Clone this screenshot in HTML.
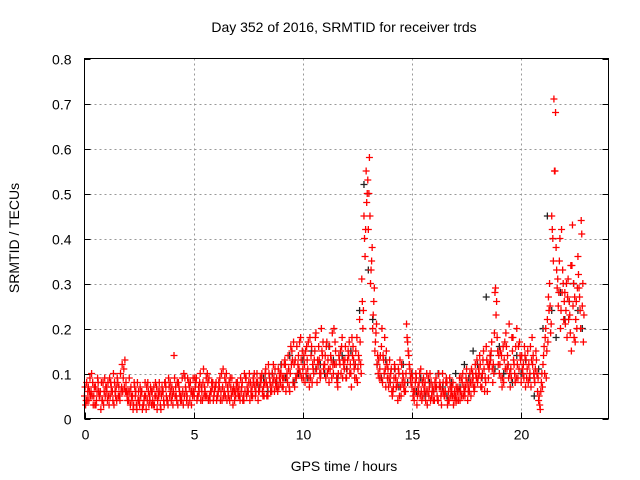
<!DOCTYPE html>
<html><head><meta charset="utf-8"><style>
body{margin:0;background:#fff}
svg{display:block;font-family:"Liberation Sans",sans-serif}
</style></head><body>
<svg id="chart" width="640" height="480">
<text x="344" y="32" text-anchor="middle" font-size="14">Day 352 of 2016, SRMTID for receiver trds</text>
<text x="344" y="471" text-anchor="middle" font-size="14">GPS time / hours</text>
<text transform="translate(19,238) rotate(-90)" text-anchor="middle" font-size="14">SRMTID / TECUs</text>
<g id="grid"></g><g id="ticks"></g><g id="marks"></g>
<rect x="84.5" y="58.5" width="524" height="360" fill="none" stroke="#000"/>
</svg>
<script>
const xTicks=[0,5,10,15,20];
const yTicks=[0,0.1,0.2,0.3,0.4,0.5,0.6,0.7,0.8];
const yTickLabels=["0","0.1","0.2","0.3","0.4","0.5","0.6","0.7","0.8"];
const redStartA=0.0, redStartB=0.05, redStartC=0.025, redStartD=0.075, redStep=0.1;
const redA=[.05,.08,.04,.06,.03,.07,.09,.05,.04,.06,
.07,.05,.08,.04,.06,.09,.05,.07,.11,.08,
.06,.03,.05,.07,.02,.04,.06,.03,.05,.08,
.04,.06,.03,.07,.05,.02,.06,.08,.04,.05,
.07,.14,.05,.08,.04,.06,.09,.05,.07,.03,
.06,.08,.05,.10,.04,.07,.05,.09,.06,.04,
.07,.05,.09,.04,.06,.10,.05,.07,.03,.06,
.08,.05,.07,.04,.09,.06,.08,.05,.07,.10,
.06,.09,.07,.11,.05,.08,.10,.06,.09,.07,
.10,.07,.12,.08,.06,.15,.12,.09,.14,.18,
.11,.08,.13,.07,.16,.10,.19,.12,.09,.14,
.12,.17,.08,.13,.10,.15,.07,.12,.18,.11,
.09,.14,.10,.16,.12,.08,.22,.31,.45,.55,
.42,.30,.20,.15,.12,.09,.16,.13,.07,.11,
.08,.05,.12,.07,.10,.05,.09,.06,.17,.11,
.07,.04,.09,.06,.11,.05,.08,.03,.07,.05,
.06,.09,.04,.07,.10,.05,.08,.04,.06,.03,
.05,.07,.04,.08,.06,.11,.07,.05,.09,.12,
.08,.14,.07,.11,.16,.09,.13,.08,.28,.18,
.10,.14,.08,.19,.12,.07,.15,.10,.20,.11,
.08,.12,.07,.15,.10,.18,.09,.13,.04,.06,
.12,.18,.22,.30,.45,.71,.38,.25,.20,.33,
.28,.18,.26,.15,.30,.22,.36,.24,.25];
const redB=[.03,.06,.09,.05,.07,.04,.06,.02,.08,.05,
.04,.09,.06,.03,.07,.05,.10,.06,.13,.05,
.09,.05,.03,.06,.04,.07,.02,.05,.07,.03,
.06,.03,.08,.04,.06,.07,.03,.05,.09,.06,
.03,.05,.08,.06,.04,.10,.06,.03,.08,.05,
.09,.04,.06,.07,.11,.05,.08,.04,.07,.06,
.04,.08,.06,.11,.05,.07,.04,.09,.06,.08,
.05,.09,.04,.06,.07,.10,.05,.08,.06,.04,
.09,.06,.08,.05,.10,.07,.12,.08,.06,.10,
.07,.12,.09,.11,.16,.08,.13,.10,.17,.09,
.14,.10,.17,.09,.12,.15,.08,.13,.20,.11,
.09,.13,.11,.19,.12,.09,.14,.10,.13,.16,
.13,.10,.18,.11,.09,.14,.12,.20,.36,.50,
.58,.35,.26,.19,.10,.14,.08,.18,.12,.09,
.11,.07,.09,.04,.13,.08,.06,.21,.14,.08,
.05,.08,.05,.10,.04,.07,.06,.09,.04,.07,
.08,.05,.07,.03,.06,.08,.04,.07,.05,.06,
.04,.06,.09,.05,.07,.04,.10,.08,.06,.09,
.11,.07,.13,.09,.06,.12,.17,.10,.23,.12,
.15,.09,.17,.11,.21,.09,.13,.16,.09,.14,
.11,.16,.09,.12,.07,.14,.11,.06,.03,.10,
.16,.09,.27,.19,.40,.55,.29,.35,.42,.22,
.24,.31,.19,.43,.27,.20,.29,.44,.17];
const redC=[.07,.04,.06,.10,.05,.03,.08,.06,.04,.09,
.06,.03,.07,.10,.05,.08,.04,.12,.07,.06,
.04,.07,.02,.05,.08,.03,.06,.04,.02,.06,
.07,.04,.05,.02,.08,.05,.04,.07,.03,.08,
.05,.09,.04,.07,.05,.03,.07,.09,.04,.06,
.05,.09,.07,.04,.08,.06,.10,.05,.08,.05,
.08,.06,.04,.07,.09,.04,.08,.05,.07,.05,
.06,.04,.08,.10,.05,.08,.06,.09,.05,.08,
.07,.10,.05,.08,.12,.06,.08,.11,.07,.09,
.12,.09,.06,.14,.10,.13,.07,.16,.11,.13,
.09,.15,.11,.18,.08,.13,.11,.16,.10,.17,
.14,.10,.16,.09,.20,.12,.10,.15,.09,.13,
.11,.17,.07,.13,.15,.11,.17,.26,.40,.48,
.50,.33,.23,.17,.14,.11,.20,.10,.15,.07,
.10,.06,.11,.08,.05,.12,.07,.10,.15,.09,
.09,.06,.03,.08,.06,.09,.04,.06,.10,.06,
.04,.07,.10,.05,.08,.06,.03,.09,.07,.05,
.07,.04,.06,.10,.05,.08,.06,.11,.07,.10,
.09,.12,.10,.06,.13,.11,.15,.12,.29,.15,
.12,.07,.13,.16,.09,.11,.18,.08,.12,.17,
.14,.09,.13,.08,.16,.12,.08,.10,.05,.08,
.14,.20,.17,.25,.42,.55,.33,.28,.24,.30,
.21,.27,.23,.34,.18,.26,.32,.20,.30];
const redD=[.04,.07,.05,.08,.03,.06,.05,.08,.03,.07,
.08,.05,.06,.08,.04,.07,.06,.09,.06,.04,
.06,.04,.08,.03,.06,.05,.03,.08,.04,.05,
.03,.07,.05,.06,.03,.06,.08,.04,.07,.04,
.06,.07,.03,.05,.09,.05,.04,.08,.06,.09,
.07,.05,.08,.06,.05,.09,.04,.06,.08,.07,
.05,.07,.10,.05,.08,.06,.09,.06,.04,.07,
.07,.06,.05,.09,.06,.04,.07,.10,.08,.06,
.08,.05,.10,.07,.09,.06,.09,.07,.11,.08,
.09,.13,.10,.07,.12,.17,.09,.12,.10,.15,
.12,.16,.09,.14,.11,.18,.13,.10,.15,.12,
.16,.11,.14,.12,.17,.08,.13,.16,.12,.09,
.15,.12,.14,.09,.18,.13,.10,.24,.42,.53,
.45,.38,.29,.21,.13,.09,.14,.11,.09,.13,
.06,.09,.07,.11,.07,.10,.08,.18,.12,.10,
.06,.10,.07,.05,.08,.06,.10,.05,.08,.04,
.07,.04,.08,.06,.05,.09,.06,.05,.08,.04,
.06,.09,.05,.07,.09,.06,.08,.10,.07,.13,
.10,.09,.15,.08,.12,.14,.11,.19,.26,.14,
.09,.16,.11,.14,.10,.18,.12,.09,.16,.13,
.10,.14,.11,.09,.13,.10,.15,.09,.02,.07,
.10,.15,.24,.21,.35,.68,.31,.40,.28,.26,
.30,.22,.34,.25,.17,.29,.27,.41,.23];
const blackStart=8.0, blackStep=0.2;
const black=[.07,.09,.06,.10,.08,.12,.09,.14,.08,.10,
.13,.09,.15,.11,.12,.10,.16,.13,.09,.14,
.11,.15,.12,.24,.52,.33,.22,.12,.09,.13,
.08,.11,.07,.12,.08,.10,.06,.09,.05,.08,
.06,.10,.07,.05,.08,.10,.07,.12,.09,.15,
.12,.09,.27,.14,.11,.16,.10,.12,.08,.14,
.10,.13,.09,.05,.11,.20,.45,.24,.18,.28,.22,.26,.30,.24,.20];

const L=84.5,R=608.5,T=58.5,B=418.5;
const xs=h=>L+(h/24)*(R-L);
const ys=v=>B-(v/0.8)*(B-T);
const NS="http://www.w3.org/2000/svg";
const grid=document.getElementById('grid'),ticks=document.getElementById('ticks'),marks=document.getElementById('marks');
function mk(tag,attrs,parent){const e=document.createElementNS(NS,tag);for(const k in attrs)e.setAttribute(k,attrs[k]);parent.appendChild(e);return e;}
xTicks.forEach(t=>{const x=Math.round(xs(t))+0.5;
 if(t>0){const g=mk('line',{x1:x,x2:x,y1:T,y2:B,stroke:'#999','stroke-dasharray':'2,3'},grid);
 
 }
 const tk=mk('line',{x1:x,x2:x,y1:B,y2:B-6,stroke:'#000'},ticks);
 
 
 const lb=mk('text',{x:x,y:B+21,'text-anchor':'middle','font-size':'14'},ticks);lb.textContent=t;
 
 });
yTicks.forEach((t,i)=>{const y=Math.round(ys(t))+0.5;
 if(t>0&&t<0.8){const g=mk('line',{x1:L,x2:R,y1:y,y2:y,stroke:'#999','stroke-dasharray':'2,3'},grid);
 
 }
 const tk=mk('line',{x1:L,x2:L+6,y1:y,y2:y,stroke:'#000'},ticks);
 
 
 mk('line',{x1:R-6,x2:R,y1:y,y2:y,stroke:'#000'},ticks);
 const lb=mk('text',{x:L-13,y:y+5,'text-anchor':'end','font-size':'14'},ticks);lb.textContent=yTickLabels[i];
 
 });
function plus(h,v,color,name){const x=xs(h),y=ys(v);
 const p=mk('path',{d:`M${x-3.5},${y}H${x+3.5}M${x},${y-3.5}V${y+3.5}`,stroke:color,'stroke-width':'1.3',fill:'none'},marks);
 
 }
black.forEach((v,i)=>plus(blackStart+i*blackStep,v,'#222','black-point'));
redA.forEach((v,i)=>plus(redStartA+i*redStep,v,'#f00','red-point'));
redB.forEach((v,i)=>plus(redStartB+i*redStep,v,'#f00','red-point'));
redC.forEach((v,i)=>plus(redStartC+i*redStep,v,'#f00','red-point'));
redD.forEach((v,i)=>plus(redStartD+i*redStep,v,'#f00','red-point'));
</script>
</body></html>
